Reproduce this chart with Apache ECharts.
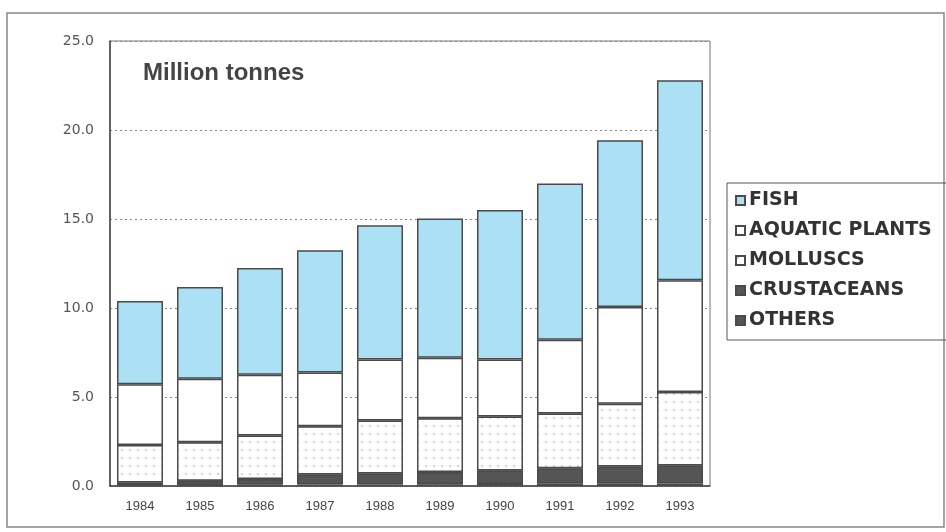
<!DOCTYPE html>
<html>
<head>
<meta charset="utf-8">
<script src="https://cdn.jsdelivr.net/npm/echarts@6/dist/echarts.min.js"></script>
<style>html,body{margin:0;padding:0;background:#fff;}#c{width:946px;height:532px;}</style>
</head>
<body>
<div id="c"></div>
<script>
const years = ['1984','1985','1986','1987','1988','1989','1990','1991','1992','1993'];
const others      = [0.05, 0.06, 0.07, 0.08, 0.09, 0.10, 0.11, 0.12, 0.13, 0.14];
const crustaceans = [0.15, 0.24, 0.33, 0.57, 0.61, 0.68, 0.76, 0.88, 0.97, 1.01];
const molluscs    = [2.10, 2.16, 2.44, 2.71, 2.98, 3.02, 3.03, 3.08, 3.52, 4.13];
const aquaticPlants = [3.41, 3.57, 3.41, 3.01, 3.43, 3.41, 3.20, 4.14, 5.44, 6.28];
const fish        = [4.68, 5.15, 6.00, 6.88, 7.54, 7.82, 8.40, 8.78, 9.37, 11.24];
const yTicks = [0, 5, 10, 15, 20, 25];

const chart = echarts.init(document.getElementById('c'));
const border = {borderColor: '#4a4a4a', borderWidth: 1.5};
function bar(name, data, style) {
  return {name, type: 'bar', stack: 'total', data, barWidth: 46,
    itemStyle: Object.assign({}, border, style), emphasis: {disabled: true}};
}
chart.setOption({
  animation: false,
  backgroundColor: '#fff',
  grid: {left: 110, top: 41, width: 600, height: 445, show: true, borderColor: '#777', borderWidth: 1},
  xAxis: {type: 'category', data: years,
    axisLine: {lineStyle: {color: '#444', width: 1.5}}, axisTick: {show: false},
    axisLabel: {color: '#444', fontFamily: 'Liberation Sans', fontSize: 13, margin: 14}},
  yAxis: {type: 'value', min: yTicks[0], max: yTicks[yTicks.length-1], interval: 5,
    axisLine: {show: true, lineStyle: {color: '#444', width: 1.5}}, axisTick: {show: false},
    axisLabel: {color: '#555', fontFamily: 'DejaVu Sans', fontSize: 14, margin: 16,
      formatter: v => v.toFixed(1)},
    splitLine: {show: true, lineStyle: {color: '#888', type: [2, 3], width: 1}}},
  legend: {
    data: ['FISH', 'AQUATIC PLANTS', 'MOLLUSCS', 'CRUSTACEANS', 'OTHERS'],
    orient: 'vertical', left: 727, top: 183, itemGap: 11,
    padding: [8, 40, 10, 8], borderColor: '#555', borderWidth: 1,
    icon: 'rect', itemWidth: 9, itemHeight: 9,
    textStyle: {color: '#333', fontFamily: 'DejaVu Sans', fontWeight: 'bold', fontSize: 19, padding: [0,0,0,-1]},
    selectedMode: false
  },
  graphic: [
    {type: 'rect', shape: {x: 7, y: 13, width: 937, height: 514}, style: {fill: 'none', stroke: '#888', lineWidth: 1.5}, silent: true},
    {type: 'text', left: 143, top: 61, style: {text: 'Million tonnes', fill: '#444', font: 'bold 24px "Liberation Sans"'}}
  ],
  series: [
    bar('OTHERS', others, {color: '#555'}),
    bar('CRUSTACEANS', crustaceans, {color: '#555'}),
    bar('MOLLUSCS', molluscs, {color: '#fff', decal: {symbol: 'circle', symbolSize: 0.5, dashArrayX: 4, dashArrayY: 4, color: '#c4c4c4', backgroundColor: '#fff'}}),
    bar('AQUATIC PLANTS', aquaticPlants, {color: '#fff'}),
    bar('FISH', fish, {color: '#ace1f5'})
  ]
});
</script>
</body>
</html>
